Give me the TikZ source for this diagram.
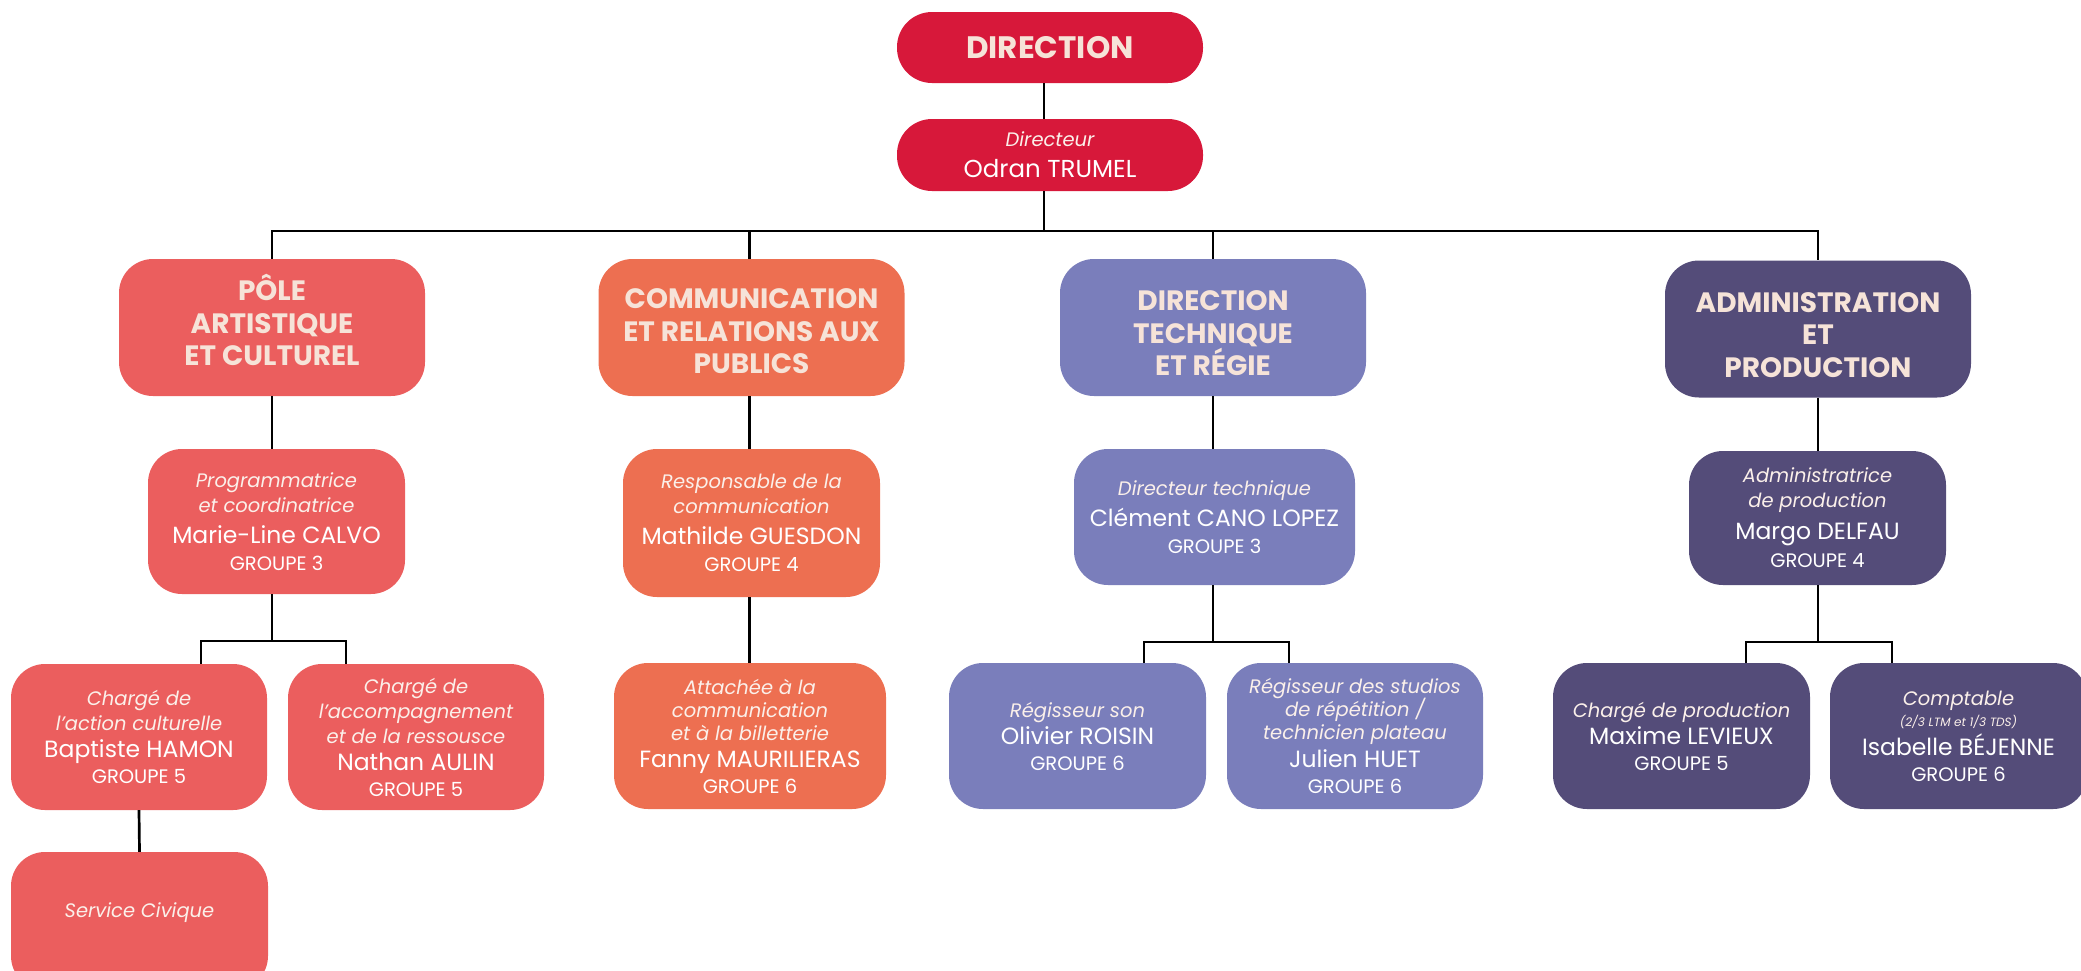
\documentclass[tikz,border=0pt]{standalone}
\usepackage{fontspec}
\setmainfont{Poppins}
\definecolor{cRed}{HTML}{D7183A}
\definecolor{cPole}{HTML}{EB5E5E}
\definecolor{cComm}{HTML}{ED6F51}
\definecolor{cTech}{HTML}{7A7EBB}
\definecolor{cAdmin}{HTML}{544C79}
\definecolor{cCream}{HTML}{F6E3D8}
\definecolor{cSoft}{HTML}{FBF0EA}
\newcommand\cIt[1]{{\color{cSoft}\itshape #1}}
\newcommand\cName[1]{{\fontsize{23.5pt}{28pt}\selectfont #1}}
\newcommand\cGrp[1]{{\fontsize{19.5pt}{24pt}\selectfont #1}}
\newcommand\cSmall[1]{{\color{cSoft}\fontsize{12pt}{16pt}\selectfont\itshape #1}}
% shift content down (#1) / up (#1) inside a centred node
\newcommand\cDown[2]{\raisebox{0pt}[\dimexpr\height+#1+#1\relax][\depth]{#2}}
\newcommand\cUp[2]{\raisebox{0pt}[\height][\dimexpr\depth+#1+#1\relax]{#2}}
\newcommand\cHead[2]{\cDown{#1}{\setlength\tabcolsep{0pt}\begin{tabular}{c}#2\end{tabular}}}
\begin{document}
\begin{tikzpicture}[x=1pt,y=-1pt,
  card/.style={rectangle, rounded corners=34pt, fill=#1, inner sep=0pt, align=center,
    text=white, font=\fontsize{19.5pt}{25pt}\selectfont},
  head/.style={rectangle, rounded corners=34pt, fill=#1, inner sep=0pt, align=center,
    text=cCream, font=\fontsize{28pt}{32.5pt}\selectfont\bfseries,
    minimum width=306pt, minimum height=137pt},
  link/.style={line width=2.7pt, black}]
\useasboundingbox (0,0) rectangle (2081,970);

% top
\node[head=cRed, minimum height=71pt, rounded corners=35pt, font=\fontsize{31pt}{34pt}\selectfont\bfseries] (dir) at (1050,47.5) {DIRECTION};
\node[card=cRed, minimum width=306pt, minimum height=72pt, rounded corners=35pt] (dirr) at (1050,155)
  {\cIt{Directeur}\\[6pt]{\fontsize{24.5pt}{28pt}\selectfont Odran TRUMEL}};

% level 1
\node[head=cPole] (pole) at (272,327.5) {\cHead{-1pt}{\smash{PÔLE}\\ARTISTIQUE\\ET CULTUREL}};
\node[head=cComm] (comm) at (751.5,327.5) {\cHead{7pt}{COMMUNICATION\\ET RELATIONS AUX\\PUBLICS}};
\node[head=cTech] (tech) at (1213,327.5) {\cHead{9pt}{DIRECTION\\TECHNIQUE\\\smash{ET RÉGIE}}};
\node[head=cAdmin] (admin) at (1818,329) {\cHead{9pt}{ADMINISTRATION\\ET\\PRODUCTION}};

% level 2
\node[card=cPole, minimum width=257pt, minimum height=145pt] (calvo) at (276.5,521.5)
  {\cIt{Programmatrice}\\\cIt{et coordinatrice}\\[6pt]\cName{Marie-Line CALVO}\\[2pt]\cGrp{GROUPE 3}};
\node[card=cComm, minimum width=257pt, minimum height=148pt] (guesdon) at (751.5,523)
  {\cIt{Responsable de la}\\\cIt{communication}\\[6pt]\cName{Mathilde GUESDON}\\[2pt]\cGrp{GROUPE 4}};
\node[card=cTech, minimum width=281pt, minimum height=136pt] (cano) at (1214.5,517)
  {\cIt{Directeur technique}\\[6pt]\cName{Clément CANO LOPEZ}\\[2pt]\cGrp{GROUPE 3}};
\node[card=cAdmin, minimum width=257pt, minimum height=134pt] (delfau) at (1817.5,518)
  {\cIt{Administratrice}\\\cIt{de production}\\[7pt]\cName{Margo DELFAU}\\[3pt]\cGrp{GROUPE 4}};

% level 3
\node[card=cPole, minimum width=256pt, minimum height=146pt] (hamon) at (139,737)
  {\cIt{Chargé de}\\\cIt{l’action culturelle}\\[2pt]\cName{Baptiste HAMON}\\[1pt]\cGrp{GROUPE 5}};
\node[card=cPole, minimum width=256pt, minimum height=146pt] (aulin) at (416,737)
  {\cIt{Chargé de}\\\cIt{l’accompagnement}\\\cIt{et de la ressousce}\\[2pt]\cName{Nathan AULIN}\\[1pt]\cGrp{GROUPE 5}};
\node[card=cPole, minimum width=257pt, minimum height=138pt] (civique) at (139.5,921)
  {\cUp{8pt}{\cIt{Service Civique}}};
\node[card=cComm, minimum width=272pt, minimum height=146pt] (fanny) at (750,736)
  {\cIt{Attachée à la}\\[-2pt]\cIt{communication}\\[-2pt]\cIt{et à la billetterie}\\[2pt]\cName{Fanny MAURILIERAS}\\[1pt]\cGrp{GROUPE 6}};
\node[card=cTech, minimum width=257pt, minimum height=146pt] (roisin) at (1077.5,736)
  {\cIt{Régisseur son}\\[2pt]\cName{Olivier ROISIN}\\[1pt]\cGrp{GROUPE 6}};
\node[card=cTech, minimum width=256pt, minimum height=146pt] (huet) at (1355,736)
  {\cIt{Régisseur des studios}\\[-2pt]\cIt{de répétition /}\\[-2pt]\cIt{technicien plateau}\\[3pt]\cName{Julien HUET}\\[1pt]\cGrp{GROUPE 6}};
\node[card=cAdmin, minimum width=257pt, minimum height=146pt] (levieux) at (1681.5,736)
  {\cIt{Chargé de production}\\[2pt]\cName{Maxime LEVIEUX}\\[1pt]\cGrp{GROUPE 5}};
\node[card=cAdmin, minimum width=257pt, minimum height=146pt] (bejenne) at (1958.5,736)
  {\cIt{Comptable}\\[-4pt]\cSmall{(2/3 LTM et 1/3 TDS)}\\[4pt]\cName{Isabelle BÉJENNE}\\[1pt]\cGrp{GROUPE 6}};

% junction coordinates
\coordinate (t0) at (1044,231);
\coordinate (b1l) at (201,641);
\coordinate (b1r) at (346,641);
\coordinate (b3l) at (1144,642);
\coordinate (b3r) at (1289,642);
\coordinate (b4l) at (1746,642);
\coordinate (b4r) at (1892,642);

% connectors
\draw[link] ([xshift=-6pt]dir.south) -- ([xshift=-6pt]dirr.north);
\draw[link] ([xshift=-6pt]dirr.south) -- (t0);
\draw[link] (pole.north) -- (pole.north |- t0) -- (admin.north |- t0) -- (admin.north);
\draw[link] ([xshift=-2pt]comm.north) -- ([xshift=-2pt]comm.north |- t0);
\draw[link] (tech.north) -- (tech.north |- t0);

\draw[link] (pole.south) -- (pole.south |- calvo.north);
\draw[link] ([xshift=-2pt]comm.south) -- ([xshift=-2pt]comm.south |- guesdon.north);
\draw[link] (tech.south) -- (tech.south |- cano.north);
\draw[link] (admin.south) -- (admin.south |- delfau.north);

\draw[link] (pole.south |- calvo.south) -- (pole.south |- b1l);
\draw[link] (b1l |- hamon.north) -- (b1l) -- (b1r) -- (b1r |- aulin.north);
\draw[link] (hamon.south) -- (civique.north);
\draw[link] ([xshift=-2pt]guesdon.south) -- ([xshift=-2pt]guesdon.south |- fanny.north);
\draw[link] (tech.south |- cano.south) -- (tech.south |- b3l);
\draw[link] (b3l |- roisin.north) -- (b3l) -- (b3r) -- (b3r |- huet.north);
\draw[link] (admin.south |- delfau.south) -- (admin.south |- b4l);
\draw[link] (b4l |- levieux.north) -- (b4l) -- (b4r) -- (b4r |- bejenne.north);
\end{tikzpicture}
\end{document}
